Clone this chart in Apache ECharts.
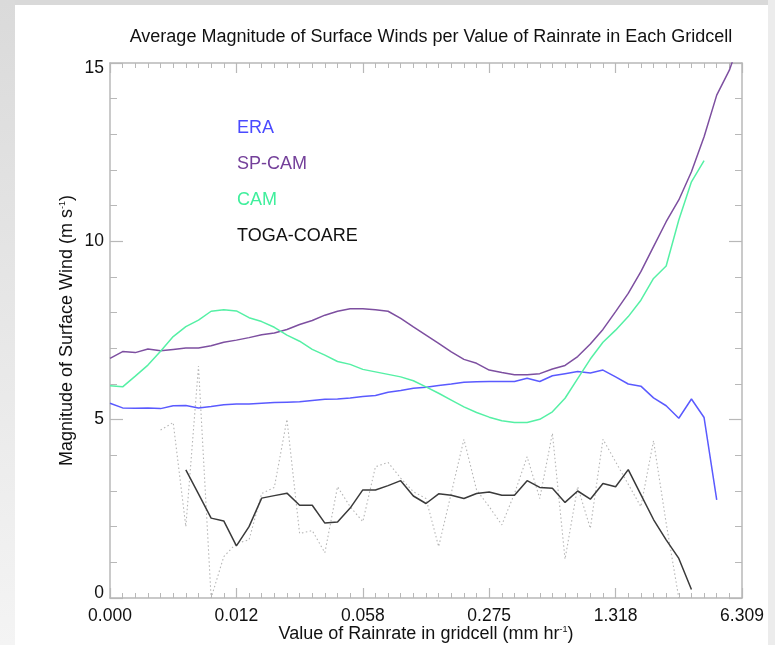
<!DOCTYPE html>
<html>
<head>
<meta charset="utf-8">
<script src="https://cdn.jsdelivr.net/npm/echarts@6/dist/echarts.min.js"></script>
<style>
html,body{margin:0;padding:0;background:#fff;}
#c{width:775px;height:645px;}
</style>
</head>
<body>
<div id="c"></div>
<script>
// x tick labels (bins are evenly spaced on the axis; 50 bins)
var xTickLabels = ['0.000', '0.012', '0.058', '0.275', '1.318', '6.309'];

// ERA, starting at bin 0
var eraValues = [5.46,5.33,5.32,5.33,5.31,5.39,5.40,5.33,5.37,5.42,
  5.44,5.44,5.46,5.48,5.49,5.50,5.54,5.57,5.58,5.61,
  5.65,5.68,5.77,5.82,5.88,5.91,5.96,6.00,6.05,6.06,
  6.07,6.07,6.07,6.16,6.07,6.23,6.29,6.35,6.31,6.39,
  6.20,6.00,5.94,5.61,5.39,5.04,5.58,5.06,2.75];

// SP-CAM, starting at bin 0
var spcamValues = [6.72,6.91,6.88,6.98,6.93,6.97,7.01,7.01,7.07,7.17,
  7.23,7.30,7.38,7.43,7.53,7.67,7.78,7.93,8.04,8.11,
  8.11,8.08,8.04,7.84,7.60,7.37,7.14,6.90,6.69,6.58,
  6.39,6.32,6.26,6.26,6.29,6.42,6.52,6.77,7.12,7.53,
  8.03,8.54,9.15,9.85,10.55,11.16,11.95,12.93,14.10,14.80,15.80];

// CAM, starting at bin 0
var camValues = [5.95,5.92,6.22,6.53,6.92,7.33,7.61,7.79,8.04,8.08,
  8.05,7.86,7.75,7.59,7.37,7.20,6.97,6.81,6.63,6.55,
  6.41,6.34,6.27,6.20,6.09,5.92,5.74,5.55,5.36,5.20,
  5.07,4.97,4.92,4.92,5.01,5.22,5.60,6.15,6.70,7.17,
  7.51,7.89,8.35,8.96,9.31,10.60,11.67,12.26];

// TOGA-COARE (solid black), starting at bin 6
var togaStart = 6;
var togaValues = [3.59,2.92,2.24,2.16,1.46,2.00,2.80,2.87,2.94,2.60,
  2.60,2.10,2.13,2.52,3.03,3.03,3.15,3.29,2.86,2.65,
  2.92,2.88,2.79,2.93,2.97,2.88,2.88,3.29,3.10,3.08,
  2.68,3.00,2.77,3.21,3.12,3.60,2.90,2.20,1.63,1.11,0.24];

// TOGA-COARE unsmoothed (grey dotted), starting at bin 4
var togaRawStart = 4;
var togaRawValues = [4.71,4.92,2.00,6.50,0.00,1.16,1.53,1.63,2.93,3.10,
  5.01,1.81,1.89,1.27,3.12,2.56,2.14,3.68,3.80,3.36,
  2.98,2.79,1.44,2.94,4.45,3.03,2.56,2.05,2.93,3.96,
  2.79,4.62,1.09,3.12,1.95,4.45,3.82,3.19,2.56,4.41,
  2.10,0.00];

var legendItems = ['ERA', 'SP-CAM', 'CAM', 'TOGA-COARE'];
var colors = {ERA:'#5a5aff', 'SP-CAM':'#7d4fa0', CAM:'#55f0a5', 'TOGA-COARE':'#3a3a3a'};
var textColors = {ERA:'#4a4aff', 'SP-CAM':'#74409a', CAM:'#3fef9c', 'TOGA-COARE':'#111'};

function pairs(vals, start){ return vals.map(function(v,i){ return [start+i, v]; }); }

var chart = echarts.init(document.getElementById('c'), null, {renderer:'canvas'});
var FONT = '"Liberation Sans", Arial, Helvetica, sans-serif';
var axisCol = '#b8b8b8';
var supRich = {sup:{fontSize:9, verticalAlign:'top', padding:[0,0,9,0], color:'#111', fontFamily:FONT}};
var yLabRich = {
  n:{fontSize:17.5, color:'#111', fontFamily:FONT},
  lo:{fontSize:17.5, color:'#111', fontFamily:FONT, padding:[0,0,9,0]},
  hi:{fontSize:17.5, color:'#111', fontFamily:FONT, padding:[10,0,0,0]}
};

function xAx(pos, showLabel){
  return {
    type:'value', position:pos, min:0, max:50, interval:10,
    axisLine:{show:true, onZero:false, lineStyle:{color:axisCol, width:1.5}},
    axisTick:{show:true, inside:true, length:10, lineStyle:{color:axisCol, width:1.2}},
    minorTick:{show:true, splitNumber:10, length:5, lineStyle:{color:axisCol, width:1}},
    splitLine:{show:false}, minorSplitLine:{show:false},
    axisLabel:{show:showLabel, margin:9, color:'#111', fontSize:17.5, fontFamily:FONT,
      formatter:function(v){ return xTickLabels[Math.round(v/10)]; }},
    name: showLabel ? 'Value of Rainrate in gridcell (mm hr{sup|-1})' : '',
    nameLocation:'middle', nameGap:27, nameMoveOverlap:false,
    nameTextStyle:{color:'#111', fontSize:18, fontFamily:FONT, rich:supRich}
  };
}
function yAx(pos, showLabel){
  return {
    type:'value', position:pos, min:0, max:15, interval:5,
    axisLine:{show:true, onZero:false, lineStyle:{color:axisCol, width:1.5}},
    axisTick:{show:true, inside:true, length:13, lineStyle:{color:axisCol, width:1.2}},
    minorTick:{show:true, splitNumber:5, length:7, lineStyle:{color:axisCol, width:1}},
    splitLine:{show:false}, minorSplitLine:{show:false},
    axisLabel:{show:showLabel, margin:6, color:'#111', fontSize:17.5, fontFamily:FONT, rich:yLabRich,
      formatter:function(v){ return v === 0 ? '{lo|0}' : (v === 15 ? '{hi|15}' : '{n|' + v + '}'); }},
    name: showLabel ? 'Magnitude of Surface Wind (m s{sup|-1})' : '',
    nameLocation:'middle', nameGap:34, nameRotate:90, nameMoveOverlap:false,
    nameTextStyle:{color:'#111', fontSize:18, fontFamily:FONT, rich:supRich}
  };
}

var graphics = [
  {type:'rect', shape:{x:0,y:0,width:775,height:5}, style:{fill:'#d9d9d9'}, silent:true, z:-10},
  {type:'rect', shape:{x:0,y:0,width:15,height:645}, style:{fill:new echarts.graphic.LinearGradient(0,0,0,1,[{offset:0,color:'#dadada'},{offset:1,color:'#f4f4f4'}])}, silent:true, z:-10},
  {type:'rect', shape:{x:768,y:0,width:7,height:645}, style:{fill:'#ececec'}, silent:true, z:-10}
];
legendItems.forEach(function(n, i){
  graphics.push({type:'text', left:237, top:119 + i*36,
    style:{text:n, fill:textColors[n], fontSize:18, fontFamily:FONT}});
});

chart.setOption({
  backgroundColor:'#ffffff',
  animation:false,
  title:{text:'Average Magnitude of Surface Winds per Value of Rainrate in Each Gridcell',
    left:426, top:23, textAlign:'center',
    textStyle:{color:'#111', fontSize:18, fontWeight:'normal', fontFamily:FONT}},
  grid:{left:110, right:33, top:63, bottom:47, containLabel:false, outerBoundsMode:'none'},
  xAxis:[xAx('bottom', true), xAx('top', false)],
  yAxis:[yAx('left', true), yAx('right', false)],
  graphic:graphics,
  series:[
    {name:'TOGA-COARE (unsmoothed)', type:'line', data:pairs(togaRawValues, togaRawStart), symbol:'none',
      lineStyle:{color:'#b5b5b5', width:1.1, type:[1.5,2.5]}, clip:true, z:1},
    {name:'ERA', type:'line', data:pairs(eraValues,0), symbol:'none', lineStyle:{color:colors.ERA, width:1.5}, clip:true, z:3},
    {name:'SP-CAM', type:'line', data:pairs(spcamValues,0), symbol:'none', lineStyle:{color:colors['SP-CAM'], width:1.5}, clip:true, z:3},
    {name:'CAM', type:'line', data:pairs(camValues,0), symbol:'none', lineStyle:{color:colors.CAM, width:1.5}, clip:true, z:3},
    {name:'TOGA-COARE', type:'line', data:pairs(togaValues, togaStart), symbol:'none', lineStyle:{color:colors['TOGA-COARE'], width:1.5}, clip:true, z:3}
  ]
});
</script>
</body>
</html>
